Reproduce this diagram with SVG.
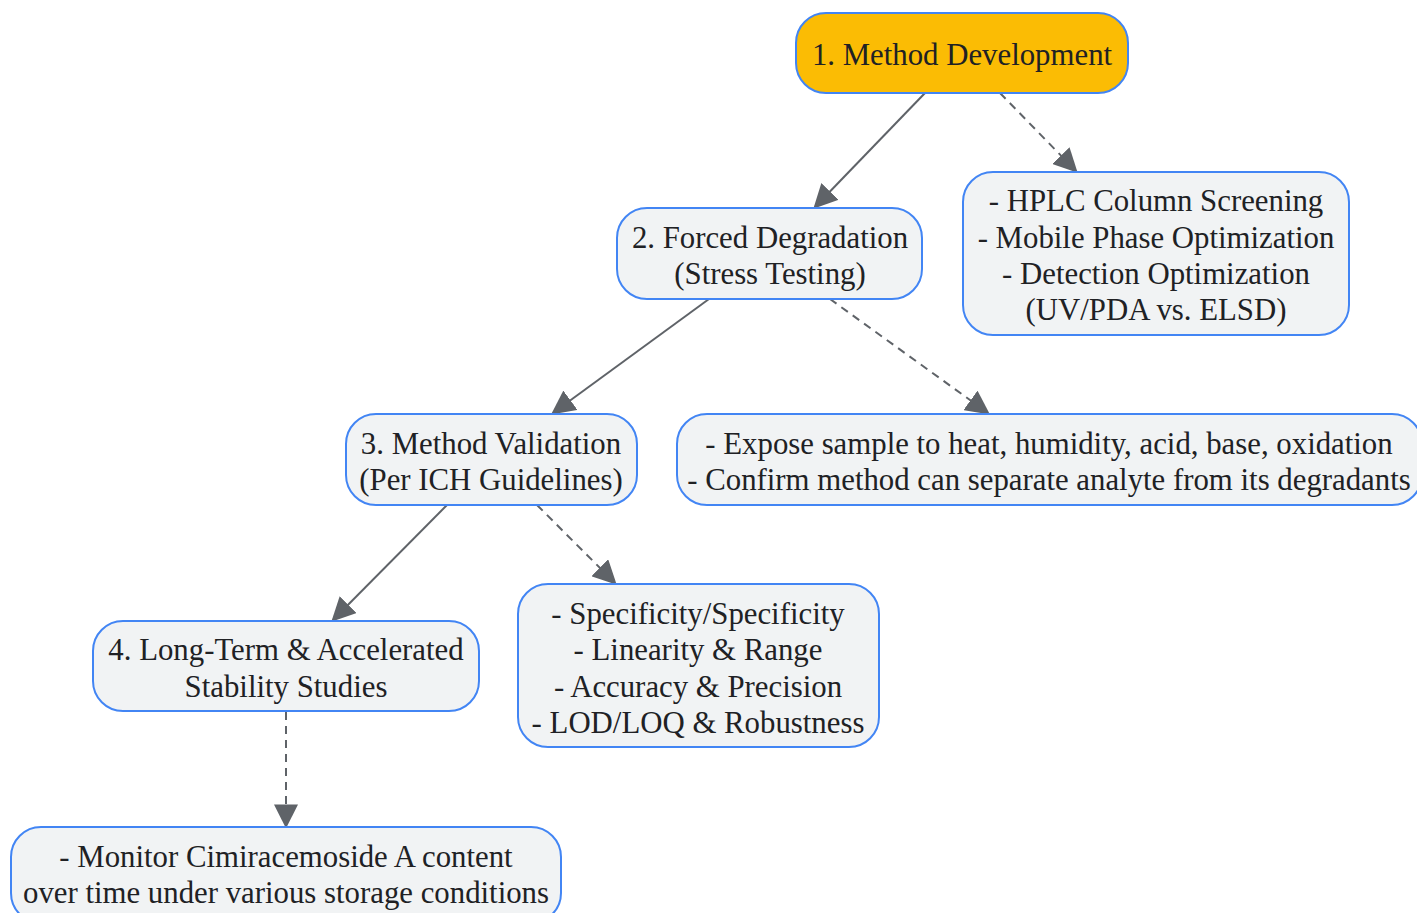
<svg xmlns="http://www.w3.org/2000/svg" width="1417" height="913" viewBox="0 0 1417 913">
<style>
.n{fill:#F1F3F4;stroke:#4285F4;stroke-width:2}
.top{fill:#FBBC04;stroke:#4285F4;stroke-width:2}
text{font-family:"Liberation Serif","Times New Roman",serif;font-size:30.8px;fill:#202124;text-anchor:middle}
.e{stroke:#5F6368;stroke-width:2;fill:none}
.d{stroke-dasharray:8 6}
</style>
<defs>
<marker id="ah" viewBox="0 0 10 10" refX="9" refY="5" markerWidth="24" markerHeight="24" markerUnits="userSpaceOnUse" orient="auto">
<path d="M0,0 L10,5 L0,10 z" fill="#5F6368"/>
</marker>
</defs>
<g id="connectors">
<line class="e" x1="925" y1="93" x2="815" y2="207" marker-end="url(#ah)"/>
<line class="e d" x1="1000" y1="93" x2="1076" y2="171" marker-end="url(#ah)"/>
<line class="e" x1="709" y1="299" x2="553" y2="413" marker-end="url(#ah)"/>
<line class="e d" x1="830" y1="299" x2="988" y2="413" marker-end="url(#ah)"/>
<line class="e" x1="447" y1="505" x2="333" y2="620" marker-end="url(#ah)"/>
<line class="e d" x1="537" y1="505" x2="615" y2="583" marker-end="url(#ah)"/>
<line class="e d" x1="286" y1="712" x2="286" y2="826" marker-end="url(#ah)"/>
</g>
<g id="n1">
<rect class="top" x="796" y="13" width="332" height="80" rx="30"/>
<text x="962" y="65">1. Method Development</text>
</g>
<g id="n2">
<rect class="n" x="617" y="208" width="305" height="91" rx="30"/>
<text x="770" y="248">2. Forced Degradation</text>
<text x="770" y="284">(Stress Testing)</text>
</g>
<g id="n1d">
<rect class="n" x="963" y="172" width="386" height="163" rx="30"/>
<text x="1156" y="211">- HPLC Column Screening</text>
<text x="1156" y="248">- Mobile Phase Optimization</text>
<text x="1156" y="284">- Detection Optimization</text>
<text x="1156" y="320">(UV/PDA vs. ELSD)</text>
</g>
<g id="n3">
<rect class="n" x="346" y="414" width="291" height="91" rx="30"/>
<text x="491" y="454">3. Method Validation</text>
<text x="491" y="490">(Per ICH Guidelines)</text>
</g>
<g id="n2d">
<rect class="n" x="677" y="414" width="745" height="91" rx="30"/>
<text x="1049" y="454">- Expose sample to heat, humidity, acid, base, oxidation</text>
<text x="1049" y="490">- Confirm method can separate analyte from its degradants</text>
</g>
<g id="n4">
<rect class="n" x="93" y="621" width="386" height="90" rx="30"/>
<text x="286" y="660">4. Long-Term &amp; Accelerated</text>
<text x="286" y="697">Stability Studies</text>
</g>
<g id="n3d">
<rect class="n" x="518" y="584" width="361" height="163" rx="30"/>
<text x="698" y="624">- Specificity/Specificity</text>
<text x="698" y="660">- Linearity &amp; Range</text>
<text x="698" y="697">- Accuracy &amp; Precision</text>
<text x="698" y="733">- LOD/LOQ &amp; Robustness</text>
</g>
<g id="n4d">
<rect class="n" x="11" y="827" width="550" height="96" rx="30"/>
<text x="286" y="867">- Monitor Cimiracemoside A content</text>
<text x="286" y="903">over time under various storage conditions</text>
</g>
</svg>
